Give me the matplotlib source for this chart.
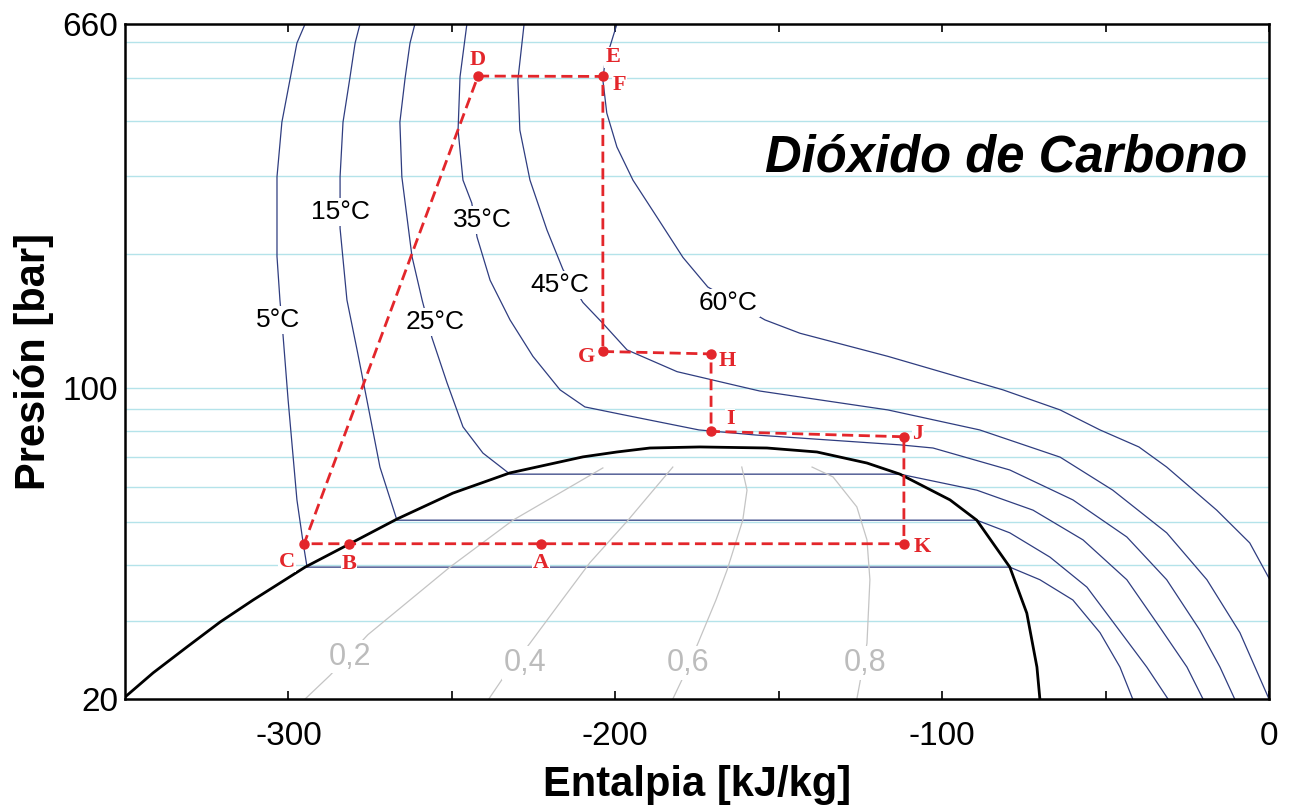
import numpy as np
import matplotlib.pyplot as plt

plt.rcParams['font.family'] = ['Liberation Sans', 'DejaVu Sans']
plt.rcParams['axes.unicode_minus'] = False

#########################
# data (h in kJ/kg, P in bar)
#########################
# saturation dome
dome_h = [-350, -341.4, -331, -320.9, -310.8, -294.9, -281.2, -266.8, -249.7, -232.3,
          -209.9, -199.5, -189.4, -174.1, -153.6, -138.3, -123, -112.9, -97.6, -89.4,
          -79.3, -74.1, -71.0, -70.1]
dome_p = [20.2, 22.9, 26.2, 29.8, 33.4, 39.6, 44.7, 50.8, 58.1, 64.5,
          70.1, 71.9, 73.4, 73.8, 73.4, 71.9, 67.9, 64.1, 56.1, 50.5,
          39.6, 31.2, 23.6, 20]

# isotherms
t05_h = [-294.9, -297.4, -302.0, -303.5, -303.5, -302.6, -301.7, -300.1, -297.4, -295.5, -294.3,
         -79.3, -70.1, -60.0, -51.7, -45.6, -41.7]
t05_p = [660, 598, 397, 299, 198, 158, 133, 94.2, 56.1, 44.9, 39.6,
         39.6, 37.1, 33.4, 28.2, 23.6, 20]

t15_h = [-278.1, -279.6, -281.2, -283.3, -284.2, -284.2, -282.1, -279.0, -276.0, -272.0, -266.8,
         -89.4, -79.3, -67.0, -55.7, -46.5, -37.4, -30.9]
t15_p = [660, 598, 499, 397, 299, 229, 158, 122, 94.2, 66.5, 50.5,
         50.5, 47.3, 41.7, 35.7, 29.0, 23.6, 20]

t25_h = [-261.3, -262.8, -264.3, -265.9, -265.3, -262.2, -259.1, -256.1, -251.5, -246.6, -240.5, -232.2,
         -112.9, -89.4, -72.2, -56.9, -43.5, -33.4, -25.1, -20.2]
t25_p = [660, 598, 499, 397, 299, 198, 158, 130, 103, 81.9, 71.5, 64.1,
         64.1, 59.0, 53.2, 45.6, 37.1, 29.0, 23.6, 20]

t35_h = [-245.4, -247.5, -248.1, -246.6, -243.9, -242.3, -238.3, -232.2, -225.2, -216.9, -209.3,
         -198.6, -174.4, -157.0, -112.9, -102.8, -79.3, -60.0, -43.5, -31.3, -21.2, -15.0, -10.5]
t35_p = [660, 502, 381, 294, 261, 219, 175, 142.5, 118, 99.2, 90.8,
         87.5, 80.6, 78.5, 74.6, 73.4, 65.5, 56.1, 46.3, 37.1, 28.6, 23.6, 20]

t45_h = [-227.9, -229.8, -229.2, -226.1, -220.9, -216.0, -209.9, -203.8, -196.4, -181.1, -161.9,
         -155.8, -116.6, -88.5, -63.9, -47.8, -31.3, -19.0, -8.9, 0]
t45_p = [660, 494, 381, 294, 227, 185, 156, 140, 122, 109, 101,
         98.6, 89.4, 80.6, 70, 59.0, 47.3, 37.1, 28.2, 20]

t60_h = [-199.5, -203.2, -203.8, -202.6, -199.5, -194.6, -187.3, -179.3, -171.7, -154.2, -143.5,
         -116.6, -81.4, -63.9, -51.7, -39.8, -31.3, -16.0, -5.9, 0]
t60_p = [660, 539, 494, 416, 349, 294, 243, 197, 169, 142.5, 133,
         118, 99.2, 89.4, 80.6, 73.8, 66.5, 53.2, 44.9, 37.4]

iso_labels = ['5°C', '15°C', '25°C', '35°C', '45°C', '60°C']
iso_lab_h = [-303.2, -284.2, -255.2, -240.5, -216.9, -165.5]
iso_lab_p = [142.5, 249, 141, 239, 170.8, 155.6]

# constant quality lines
x02_h = [-294.9, -287.3, -275.7, -250.6, -231.3, -203.8]
x02_p = [20, 22.6, 27.9, 39.6, 50.5, 66.2]
x04_h = [-238.7, -234.7, -226.1, -216.3, -207.8, -196.1, -182.4]
x04_p = [20, 22.1, 26.7, 33.4, 40.5, 50.5, 66.5]
x06_h = [-182.4, -179.6, -174.7, -169.2, -165.8, -161.0, -159.7, -161.3]
x06_p = [20, 22.1, 26.7, 33.4, 39.0, 50.5, 59.0, 66.5]
x08_h = [-126.1, -125.2, -123.0, -122.1, -123.0, -126.1, -133.4, -139.8]
x08_p = [20, 21.7, 26.7, 37.1, 45.6, 54.1, 63.2, 66.5]

q_labels = ['0,2', '0,4', '0,6', '0,8']
q_lab_h = [-281.2, -227.6, -177.8, -123.6]
q_lab_p = [24.9, 24.1, 24.1, 24.1]

# cycle
cyc_names = ['D', 'F', 'G', 'H', 'I', 'J', 'K', 'A', 'B', 'C']
cyc_h = [-242.0, -203.8, -203.8, -170.7, -170.7, -111.7, -111.7, -222.7, -281.5, -295.2]
cyc_p = [504, 503, 121, 119.5, 80, 77.8, 44.7, 44.7, 44.7, 44.7]

# point label offsets (points)
lab_names = ['D', 'E', 'F', 'G', 'H', 'I', 'J', 'K', 'A', 'B', 'C']
lab_dx = [0, 7, 12, -11.5, 12, 13.7, 10, 13, 0, 0, -12.2]
lab_dy = [11.5, 13.7, -6.5, -4.3, -5, 8.6, 2, -2, -13.7, -14.4, -13]

grid_p = [30, 40, 50, 60, 70, 80, 90, 100, 200, 300, 400, 500, 600]

#########################
# plot
#########################
fig = plt.figure(figsize=(12.91, 8.09), dpi=100)
ax = fig.add_axes([125 / 1291, 110 / 809, 1144 / 1291, 675 / 809])
ax.set_yscale('log')

ax.hlines(grid_p, -350, 0, colors='#b4e3ea', linewidth=1.0, zorder=1)

iso_col = '#2f3d80'
for hh, pp in [(t05_h, t05_p), (t15_h, t15_p), (t25_h, t25_p),
               (t35_h, t35_p), (t45_h, t45_p), (t60_h, t60_p)]:
    ax.plot(hh, pp, color=iso_col, linewidth=0.9, zorder=2)

for txt, hh, pp in zip(iso_labels, iso_lab_h, iso_lab_p):
    ax.text(hh, pp, txt, fontsize=19, ha='center', va='center', zorder=3,
            bbox=dict(facecolor='white', edgecolor='none', pad=1.5))

q_col = '#c4c4c4'
for hh, pp in [(x02_h, x02_p), (x04_h, x04_p), (x06_h, x06_p), (x08_h, x08_p)]:
    ax.plot(hh, pp, color=q_col, linewidth=0.9, zorder=2)
for txt, hh, pp in zip(q_labels, q_lab_h, q_lab_p):
    ax.text(hh, pp, txt, fontsize=22, color='#bcbcbc', ha='center', va='center', zorder=3,
            bbox=dict(facecolor='white', edgecolor='none', pad=1.0))

ax.plot(dome_h, dome_p, color='black', linewidth=2.0, zorder=4)

red = '#e3262b'
ax.plot(cyc_h + cyc_h[:1], cyc_p + cyc_p[:1], color=red, linewidth=2.0,
        dashes=(4, 2), zorder=5)
ax.plot(cyc_h, cyc_p, 'o', color=red, markersize=6.5, zorder=6)

lab_h = {n: h for n, h in zip(cyc_names, cyc_h)}
lab_p = {n: p for n, p in zip(cyc_names, cyc_p)}
lab_h['E'] = lab_h['F']
lab_p['E'] = lab_p['F']
for n, dx, dy in zip(lab_names, lab_dx, lab_dy):
    ax.annotate(n, (lab_h[n], lab_p[n]), xytext=(dx, dy), textcoords='offset points',
                ha='center', va='center', fontsize=16, fontweight='bold', color=red,
                family=['Liberation Serif', 'DejaVu Serif'], zorder=7,
                bbox=dict(facecolor='white', edgecolor='none', pad=0.5))

ax.text(0.981, 0.801, 'Dióxido de Carbono', transform=ax.transAxes, fontsize=36.5,
        fontweight='bold', fontstyle='italic', ha='right', va='center', zorder=7)

ax.set_xlim(-350, 0)
ax.set_ylim(20, 660)
ax.set_xticks([-300, -200, -100, 0])
ax.set_xticks([-250, -150, -50], minor=True)
ax.tick_params(axis='x', which='both', direction='in', length=6, width=1.2,
               top=True, labelsize=24, pad=16)
ax.yaxis.set_major_locator(plt.FixedLocator([20, 100, 660]))
ax.yaxis.set_major_formatter(plt.FixedFormatter(['20', '100', '660']))
ax.yaxis.set_minor_locator(plt.NullLocator())
ax.tick_params(axis='y', which='both', length=0, labelsize=24, pad=5)

for s in ax.spines.values():
    s.set_linewidth(1.8)

ax.set_xlabel('Entalpia [kJ/kg]', fontsize=30, fontweight='bold', labelpad=9)
ax.set_ylabel('Presión [bar]', fontsize=30, fontweight='bold', labelpad=6)

fig.savefig('out.png', dpi=100)
